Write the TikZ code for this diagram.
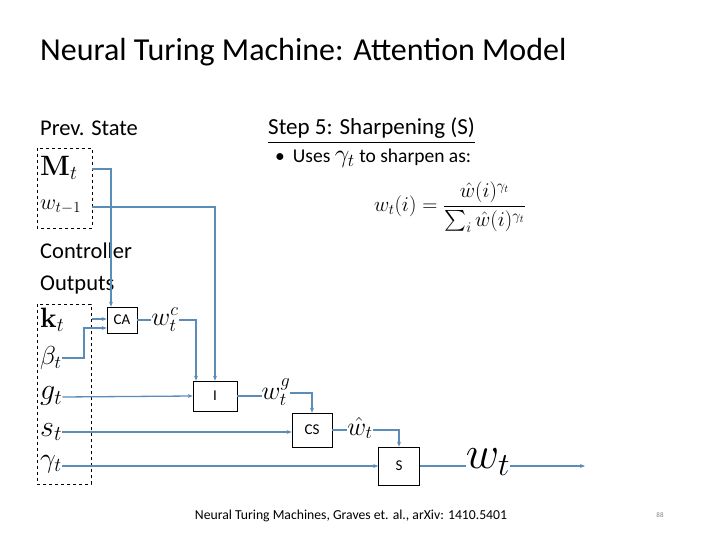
\documentclass[tikz,border=0pt]{standalone}
\usepackage{fix-cm}
\usepackage{amsmath}
\usepackage[no-math]{fontspec}
\setmainfont{Carlito}
\usetikzlibrary{arrows.meta}
\definecolor{ln}{HTML}{5B8DB8}
\newcommand{\fs}[1]{\fontsize{#1}{#1}\selectfont}
\begin{document}
\begin{tikzpicture}[x=1pt,y=-1pt,
  blk/.style={draw,line width=0.6pt,fill=white,font=\fs{15},inner sep=0},
  dbox/.style={draw,dashed,line width=0.6pt},
  wire/.style={ln,line width=1.3pt},
  arr/.style={wire,-{Stealth[length=5pt,width=4pt]}},
  txt/.style={anchor=west,inner sep=0},
  ml/.style={inner sep=0,font=\fs{26}}]
\useasboundingbox (0,0) rectangle (720,540);
\node[txt,font=\fs{32}] (title) at (40,52) {Neural Turing Machine: Attention Model};
\node[txt,font=\fs{22.5}] (prev) at (40,128) {Prev. State};
\node[txt,font=\fs{23}] (step) at (268,131) {\underline{Step 5: Sharpening (S)}};
\node[txt,font=\fs{19.5}] (uses) at (275,158) {\textbullet\hspace{8pt}Uses \fs{26}$\gamma_t$\fs{19.5} to sharpen as:};
\node[inner sep=0,font=\fs{21}] (eq) at (450,207) {$w_t(i)=\dfrac{\hat w(i)^{\gamma_t}}{\sum_i \hat w(i)^{\gamma_t}}$};
\node[txt,font=\fs{22.5}] (ctrl) at (40,251) {Controller};
\node[txt,font=\fs{22.5}] (outs) at (40,285) {Outputs};
\draw[dbox] (37,148) rectangle (92,228);
\draw[dbox] (37,304) rectangle (91,484);
\node[ml,anchor=west,font=\fs{28}] (M) at (40,168) {$\mathbf{M}_t$};
\node[ml,anchor=west,font=\fs{22}] (wp) at (40,207) {$w_{t-1}$};
\node[ml,anchor=west,font=\fs{28}] (k) at (40,320) {$\mathbf{k}_t$};
\node[ml,anchor=west,font=\fs{26}] (b) at (40,358) {$\beta_t$};
\node[ml,anchor=west,font=\fs{30}] (g) at (40,396) {$g_t$};
\node[ml,anchor=west,font=\fs{30}] (s) at (40,432) {$s_t$};
\node[ml,anchor=west,font=\fs{28}] (gm) at (40,464) {$\gamma_t$};
\node[blk,minimum width=30,minimum height=26] (CA) at (122,320) {CA};
\node[blk,minimum width=44,minimum height=30] (I) at (215,396) {I};
\node[blk,minimum width=40,minimum height=34] (CS) at (312,430) {CS};
\node[blk,minimum width=41,minimum height=38] (S) at (399,466) {S};
\node[ml] (wc) at (165,320) {$w_t^c$};
\node[ml] (wg) at (276,392) {$w_t^g$};
\node[ml] (wh) at (360,428) {$\hat w_t$};
\node[inner sep=0,font=\fs{46}] (wt) at (488,462) {$w_t$};
\coordinate (out) at (585,466);
\draw[arr] (92,169) -| (CA.north -| 111,0);
\draw[arr] (92,207) -| (I.north -| 215,0);
\draw[arr] (92,319) -- (CA.west |- 0,319);
\draw[arr] (62,358) -- (84,358) |- (CA.west |- 0,328);
\draw[wire] (CA.east) -- (wc.west);
\draw[arr] (wc.east |- 0,320) -| (I.north -| 196,0);
\draw[arr] (g.east |- 0,397) -- (I.west);
\draw[wire] (I.east) -- (wg.west |- I.east);
\draw[arr] (wg.east |- 0,393) -| (CS.north);
\draw[arr] (s.east |- 0,432) -- (CS.west |- 0,432);
\draw[wire] (CS.east) -- (wh.west |- CS.east);
\draw[arr] (wh.east |- 0,430) -| (S.north);
\draw[arr] (gm.east |- 0,466) -- (S.west);
\draw[wire] (S.east) -- (wt.west |- S.east);
\draw[arr] (wt.east |- 0,466) -- (out);
\node[inner sep=0,font=\fs{13.7}] (ref) at (351,516) {Neural Turing Machines, Graves et. al., arXiv: 1410.5401};
\node[inner sep=0,font=\fs{7},gray] (pg) at (660,515) {88};
\end{tikzpicture}
\end{document}
